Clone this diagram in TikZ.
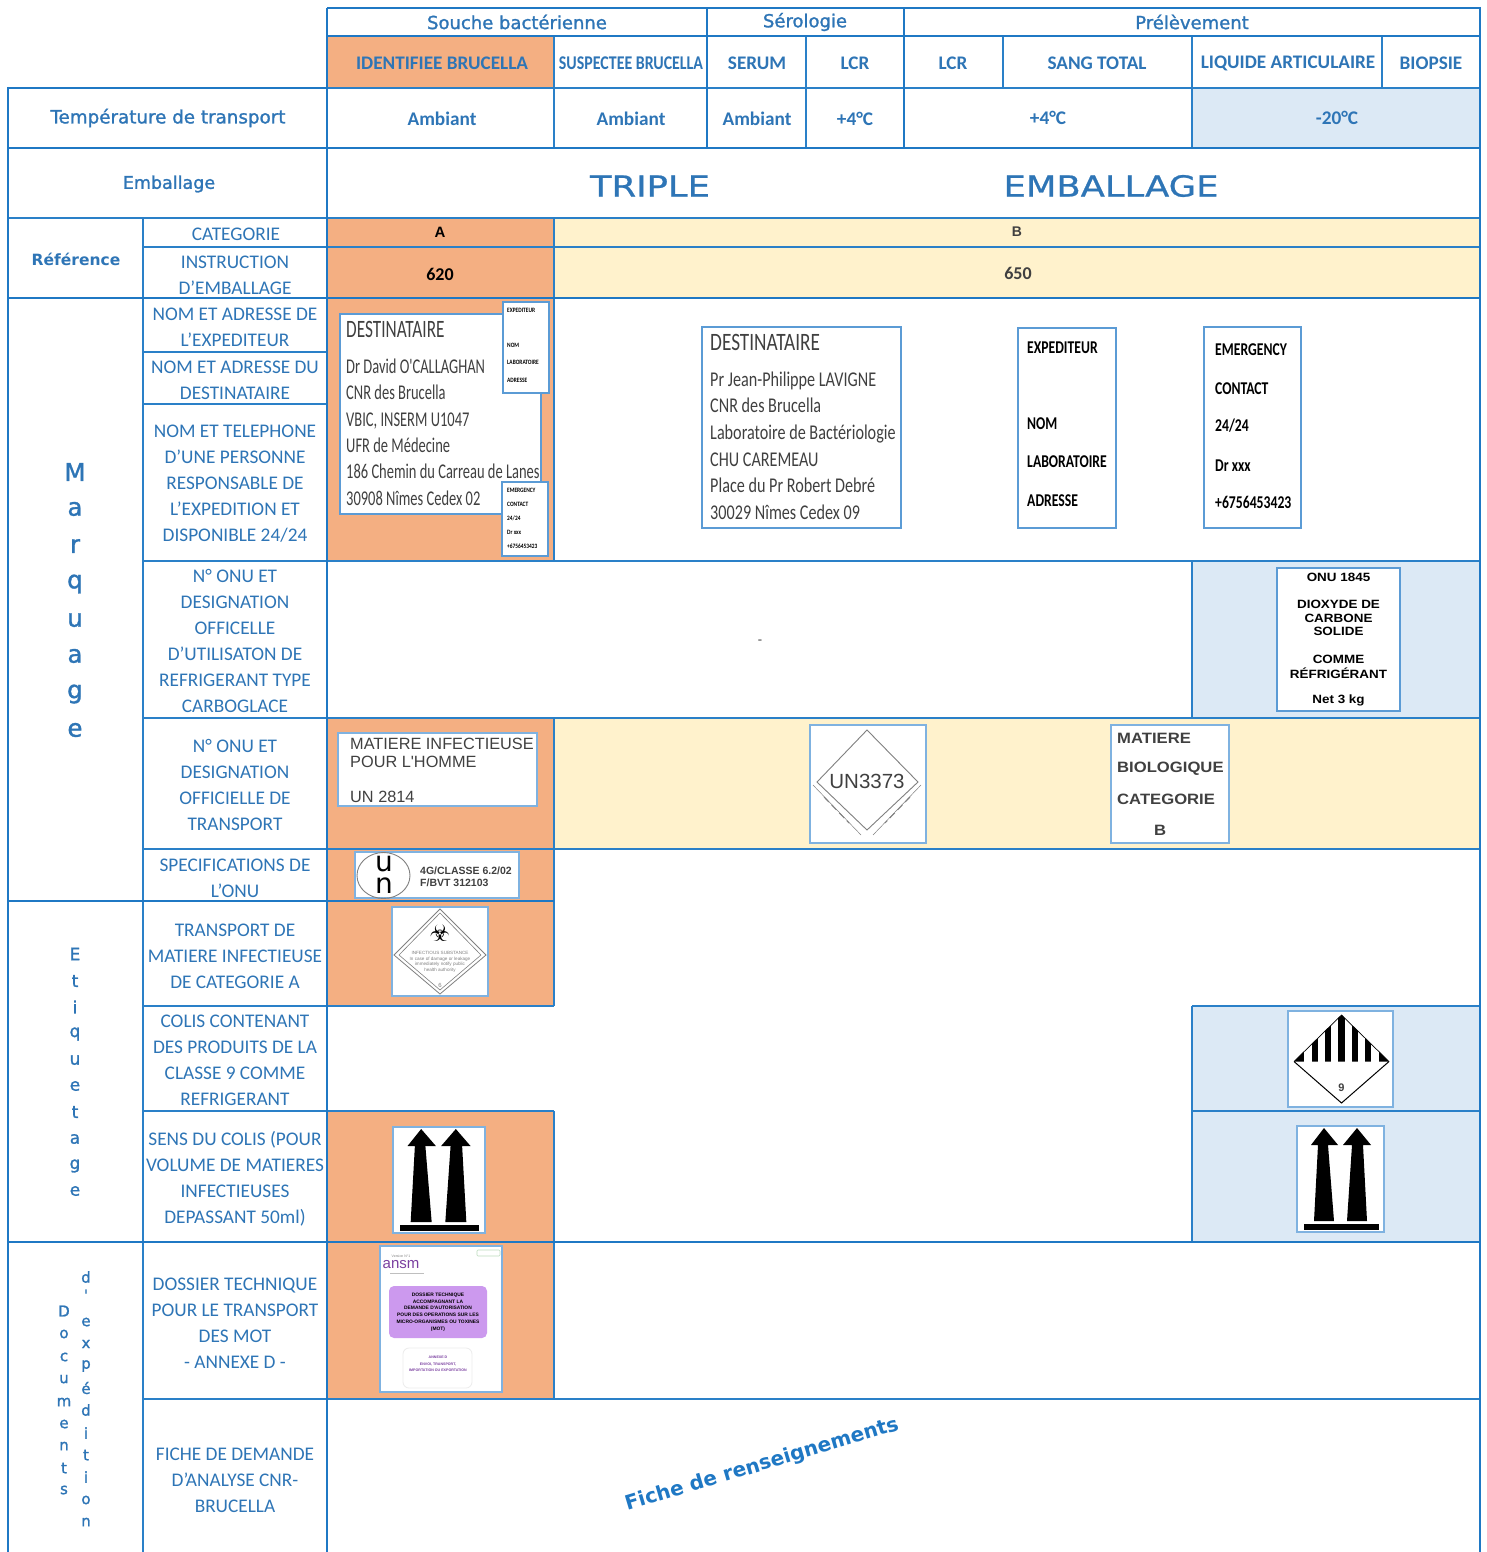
\documentclass[tikz,border=0pt]{standalone}
\usepackage{fontspec}
\setmainfont{Carlito}
\newfontfamily\djv{DejaVu Sans}
\newfontfamily\djvb[FakeBold=1.3]{DejaVu Sans}
\newfontfamily\djvw[FakeStretch=1.22,FakeBold=0.8]{DejaVu Sans}
\newfontfamily\conda[FakeStretch=0.69]{Carlito}
\newfontfamily\condc[FakeStretch=0.77]{Carlito}
\newfontfamily\cond[FakeStretch=0.82]{Carlito}
\newfontfamily\condb[FakeStretch=0.76]{Carlito}
\newfontfamily\arf{Liberation Sans}
\newfontfamily\onuf[FakeStretch=1.12]{Liberation Sans}
\newfontfamily\arwf[FakeStretch=1.11]{Liberation Sans}
\definecolor{tbl}{HTML}{2E75B6}
\definecolor{lnk}{HTML}{2A80C8}
\definecolor{lnkd}{HTML}{1F78C4}
\definecolor{box}{HTML}{5B9BD5}
\definecolor{imgb}{HTML}{7FB2E0}
\definecolor{ora}{HTML}{F4AF82}
\definecolor{yel}{HTML}{FFF2CC}
\definecolor{blu}{HTML}{DCE9F5}
\definecolor{drk}{HTML}{404040}
\definecolor{purp}{HTML}{CC99EE}
\definecolor{vio}{HTML}{7A3FA0}
\tikzset{
 thin line/.style={draw=lnk,line width=1.1pt},
 thick line/.style={draw=lnkd,line width=2.3pt},
 lbl/.style={text=tbl,font=\fontsize{19.3}{26}\selectfont,align=center,inner sep=0pt,yshift=-1pt},
 hd/.style={text=tbl,font=\djvb\fontsize{18}{22}\selectfont,inner sep=0pt},
 hdb/.style={text=tbl,font=\fontsize{19.2}{22}\selectfont\bfseries,inner sep=0pt},
 val/.style={text=tbl,font=\fontsize{19.3}{22}\selectfont\bfseries,inner sep=0pt},
 imgbox/.style={draw=imgb,fill=white,line width=1.2pt},
 addr/.style={anchor=west,inner sep=0pt,text=drk,font=\conda\fontsize{21}{24}\selectfont,text height=18pt,text depth=4pt},
 addrc/.style={addr,font=\condc\fontsize{21}{24}\selectfont},
 addrt/.style={text height=20pt},
 addrb/.style={anchor=west,inner sep=0pt,text=black,font=\condb\fontsize{18}{20}\selectfont\bfseries,text height=16pt,text depth=4pt},
 tinyl/.style={anchor=west,inner sep=0pt,text=black,font=\cond\fontsize{6.6}{8}\selectfont\bfseries,text height=6pt,text depth=1pt},
 onu/.style={inner sep=0pt,text=black,font=\onuf\fontsize{12}{14}\selectfont\bfseries},
 mat/.style={anchor=west,inner sep=0pt,text=drk,font=\arf\fontsize{16.3}{20}\selectfont},
 bio/.style={anchor=west,inner sep=0pt,text=drk,font=\arwf\fontsize{15}{18}\selectfont\bfseries},
 vl/.style={text=tbl,inner sep=0pt},
}
\newcommand{\twoarrows}[3]{%
 \begin{scope}[shift={(#1,#2)},xscale=#3]
  \fill[black] (-16.5,-93)--(-29.5,-76)--(-22.5,-76)--(-26.5,0)--(-6.5,0)--(-12.5,-76)--(-2.5,-76)--cycle;
  \fill[black] (16.5,-93)--(2.5,-76)--(11.5,-76)--(6.5,0)--(26.5,0)--(22.5,-76)--(30.5,-76)--cycle;
  \fill[black] (-36.5,3) rectangle (38.5,9);
 \end{scope}}
\begin{document}
\begin{tikzpicture}[x=1pt,y=-1pt]
\useasboundingbox (0,0) rectangle (1486,1552);
\fill[white] (0,0) rectangle (1486,1552);
% fills
\fill[ora] (327,36) rectangle (554,88);
\fill[ora] (327,218) rectangle (554,561);
\fill[ora] (327,718) rectangle (554,1006);
\fill[ora] (327,1111) rectangle (554,1399);
\fill[yel] (554,218) rectangle (1480,298);
\fill[yel] (554,718) rectangle (1480,849);
\fill[blu] (1192,88) rectangle (1480,148);
\fill[blu] (1192,561) rectangle (1480,718);
\fill[blu] (1192,1006) rectangle (1480,1242);
% thin lines
\draw[thin line] (327,88)--(1480,88);
\draw[thin line] (8,218)--(1480,218);
\draw[thin line] (143,247)--(1480,247);
\draw[thin line] (143,352)--(327,352) (143,404)--(327,404);
\draw[thin line] (143,561)--(1480,561) (143,718)--(1480,718) (143,849)--(1480,849);
\draw[thin line] (143,1006)--(554,1006) (1192,1006)--(1480,1006);
\draw[thin line] (143,1111)--(554,1111) (1192,1111)--(1480,1111);
\draw[thin line] (143,1399)--(1480,1399);
\draw[thin line] (143,218)--(143,1552);
\draw[thin line] (554,36)--(554,148) (554,218)--(554,561) (554,718)--(554,1006) (554,1111)--(554,1399);
\draw[thin line] (806,36)--(806,148) (1003,36)--(1003,88);
\draw[thin line] (1192,36)--(1192,148) (1192,561)--(1192,718) (1192,1006)--(1192,1242);
\draw[thin line] (1382,36)--(1382,88);
% thick lines
\draw[thick line] (327,8)--(1480,8);
\draw[thick line,line width=1.6pt] (327,36)--(1480,36);
\draw[thick line] (8,88)--(327,88);
\draw[thick line] (8,148)--(1480,148) (8,298)--(1480,298);
\draw[thick line] (8,901)--(554,901) (8,1242)--(1480,1242);
\draw[thick line] (8,87)--(8,1552) (327,8)--(327,1552) (1480,7)--(1480,1552);
\draw[thick line,line width=1.8pt] (707,8)--(707,148) (904,8)--(904,148);
% headers
\node[hd] (h1) at (517,22) {Souche bactérienne};
\node[hd] (h2) at (805,22) {Sérologie};
\node[hd] (h3) at (1192,22) {Prélèvement};
\node[hdb] (s1) at (442,63) {IDENTIFIEE BRUCELLA};
\node[hdb,font=\cond\fontsize{19.4}{20}\selectfont\bfseries] (s2) at (631,63) {SUSPECTEE BRUCELLA};
\node[hdb] (s3) at (757,63) {SERUM};
\node[hdb] (s4) at (855,63) {LCR};
\node[hdb] (s5) at (953,63) {LCR};
\node[hdb] (s6) at (1097,63) {SANG TOTAL};
\node[hdb] (s7) at (1288,63) {LIQUIDE ARTICULAIRE};
\node[hdb] (s8) at (1431,63) {BIOPSIE};
\node[hd,font=\djvb\fontsize{18.3}{22}\selectfont] (tt) at (168,118) {Température de transport};
\node[val] (v1) at (442,119) {Ambiant};
\node[val] (v2) at (631,119) {Ambiant};
\node[val] (v3) at (757,119) {Ambiant};
\node[val] (v4) at (855,119) {+4°C};
\node[val] (v5) at (1048,118) {+4°C};
\node[val] (v6) at (1337,118) {-20°C};
\node[hd,font=\djvb\fontsize{17.5}{22}\selectfont] (emb) at (169,184) {Emballage};
\node[text=tbl,inner sep=0pt,font=\djvw\fontsize{29}{32}\selectfont] (tr) at (650,186) {TRIPLE};
\node[text=tbl,inner sep=0pt,font=\djvw\fontsize{29}{32}\selectfont] (em) at (1111,186) {EMBALLAGE};
\node[hd,font=\djv\fontsize{15.5}{22}\selectfont\bfseries] (ref) at (76,259) {Référence};
% second column labels
\node[lbl] (l1) at (236,233) {CATEGORIE};
\node[lbl] (l2) at (235,274) {INSTRUCTION\\D'EMBALLAGE};
\node[lbl] (l3) at (235,326) {NOM ET ADRESSE DE\\L'EXPEDITEUR};
\node[lbl] (l4) at (235,379) {NOM ET ADRESSE DU\\DESTINATAIRE};
\node[lbl] (l5) at (235,483) {NOM ET TELEPHONE\\D'UNE PERSONNE\\RESPONSABLE DE\\L'EXPEDITION ET\\DISPONIBLE 24/24};
\node[lbl] (l6) at (235,640) {N° ONU ET\\DESIGNATION\\OFFICELLE\\D'UTILISATON DE\\REFRIGERANT TYPE\\CARBOGLACE};
\node[lbl] (l7) at (235,784) {N° ONU ET\\DESIGNATION\\OFFICIELLE DE\\TRANSPORT};
\node[lbl] (l8) at (235,877) {SPECIFICATIONS DE\\L'ONU};
\node[lbl] (l9) at (235,955) {TRANSPORT DE\\MATIERE INFECTIEUSE\\DE CATEGORIE A};
\node[lbl] (l10) at (235,1059) {COLIS CONTENANT\\DES PRODUITS DE LA\\CLASSE 9 COMME\\REFRIGERANT};
\node[lbl] (l11) at (235,1178) {SENS DU COLIS (POUR\\VOLUME DE MATIERES\\INFECTIEUSES\\DEPASSANT 50ml)};
\node[lbl] (l12) at (235,1322) {DOSSIER TECHNIQUE\\POUR LE TRANSPORT\\DES MOT\\- ANNEXE D -};
\node[lbl] (l13) at (235,1479) {FICHE DE DEMANDE\\D'ANALYSE CNR-\\BRUCELLA};
% vertical words
\foreach \c/\y [count=\i] in {M/472,a/509,r/546,q/584,u/620,a/656,g/694,e/730}
 \node[vl,font=\djvb\fontsize{24.5}{26}\selectfont] (ma\i) at (75,\y) {\c};
\foreach \c/\y [count=\i] in {E/954,t/981,i/1007,q/1034,u/1060,e/1086,t/1112,a/1139,g/1166,e/1191}
 \node[vl,font=\djvb\fontsize{17}{20}\selectfont] (et\i) at (75,\y) {\c};
\foreach \c/\y [count=\i] in {D/1311,o/1334,c/1357,u/1379,m/1402,e/1424,n/1446,t/1468,s/1490}
 \node[vl,font=\djvb\fontsize{15}{18}\selectfont] (doc\i) at (64,\y) {\c};
\foreach \c/\y [count=\i] in {d/1277,{'}/1295,e/1322,x/1344,p/1366,{é}/1388,d/1410,i/1433,t/1455,i/1477,o/1500,n/1522}
 \node[vl,font=\djvb\fontsize{15}{18}\selectfont] (exp\i) at (86,\y) {\c};
% values
\node[inner sep=0pt,font=\arf\fontsize{15}{18}\selectfont\bfseries] (ca) at (440,232) {A};
\node[inner sep=0pt,text=drk,font=\arf\fontsize{14}{18}\selectfont\bfseries] (cb) at (1017,232) {B};
\node[inner sep=0pt,font=\fontsize{18}{20}\selectfont\bfseries] (n620) at (440,274) {620};
\node[inner sep=0pt,text=drk,font=\fontsize{18}{20}\selectfont\bfseries] (n650) at (1018,273) {650};
\node[inner sep=0pt,text=drk,font=\fontsize{14}{16}\selectfont] (dash) at (760,642) {-};
% address box 1
\draw[box,fill=white,line width=1.3pt] (340,314) rectangle (541,514);
\node[addr,addrt,font=\conda\fontsize{25}{28}\selectfont] (a0) at (346,329) {DESTINATAIRE};
\foreach \t/\y [count=\i] in {{Dr David O'CALLAGHAN}/366,{CNR des Brucella}/392,{VBIC, INSERM U1047}/419,{UFR de Médecine}/445,{186 Chemin du Carreau de Lanes}/471,{30908 Nîmes Cedex 02}/498}
 \node[addr] (a\i) at (346,\y) {\t};
\draw[box,fill=white,line width=1.3pt] (503,302) rectangle (549,393);
\foreach \t/\y [count=\i] in {EXPEDITEUR/310,NOM/345,LABORATOIRE/362,ADRESSE/380}
 \node[tinyl] (b\i) at (507,\y) {\t};
\draw[box,fill=white,line width=1.3pt] (502,482) rectangle (548,556);
\foreach \t/\y [count=\i] in {EMERGENCY/490,CONTACT/504,{24/24}/518,{Dr xxx}/532,+6756453423/546}
 \node[tinyl] (c\i) at (507,\y) {\t};
% address box 2
\draw[box,fill=white,line width=1.3pt] (702,327) rectangle (901,528);
\node[addrc,addrt,font=\condc\fontsize{25}{28}\selectfont] (d0) at (710,342) {DESTINATAIRE};
\foreach \t/\y [count=\i] in {{Pr Jean-Philippe LAVIGNE}/379,{CNR des Brucella}/405,{Laboratoire de Bactériologie}/432,{CHU CAREMEAU}/459,{Place du Pr Robert Debré}/485,{30029 Nîmes Cedex 09}/512}
 \node[addrc] (d\i) at (710,\y) {\t};
% expediteur
\draw[box,fill=white,line width=1.3pt] (1018,328) rectangle (1116,528);
\foreach \t/\y [count=\i] in {EXPEDITEUR/347,NOM/423,LABORATOIRE/461,ADRESSE/500}
 \node[addrb] (e\i) at (1027,\y) {\t};
% emergency
\draw[box,fill=white,line width=1.3pt] (1204,327) rectangle (1301,528);
\foreach \t/\y [count=\i] in {EMERGENCY/349,CONTACT/388,{24/24}/425,{Dr xxx}/465,+6756453423/502}
 \node[addrb] (f\i) at (1215,\y) {\t};
% ONU
\draw[box,fill=white,line width=1.3pt] (1277,568) rectangle (1400,711);
\foreach \t/\y [count=\i] in {{ONU 1845}/577,{DIOXYDE DE}/604,CARBONE/618,SOLIDE/631,COMME/659,{RÉFRIGÉRANT}/673,{Net 3 kg}/700}
 \node[onu] (g\i) at (1338.5,\y) {\t};
% matiere infectieuse
\draw[imgbox] (338,733) rectangle (537,806);
\node[mat] (m1) at (350,744) {MATIERE INFECTIEUSE};
\node[mat] (m2) at (350,762) {POUR L'HOMME};
\node[mat] (m3) at (350,797) {UN 2814};
% UN mark
\draw[imgbox] (355,852) rectangle (519,898);
\draw[gray,line width=0.9pt] (383.5,875.5) ellipse (26.5 and 23);
\node[inner sep=0pt,font=\djv\fontsize{28}{30}\selectfont] (unu) at (384,864) {u};
\node[inner sep=0pt,font=\djv\fontsize{28}{30}\selectfont] (unn) at (384,886) {n};
\node[inner sep=0pt,anchor=west,text=drk,align=left,font=\arf\fontsize{10.5}{12.5}\selectfont\bfseries] (uns) at (420,877) {4G/CLASSE 6.2/02\\F/BVT 312103};
% infectious
\draw[imgbox] (392,907) rectangle (488,996);
\draw[gray,line width=0.8pt] (440,909)--(486,955)--(440,994)--(394,955)--cycle;
\draw[gray,line width=0.6pt] (440,913)--(481,955)--(440,990)--(399,955)--cycle;
\node[inner sep=0pt,text=black,font=\djv\fontsize{23}{24}\selectfont] (bh) at (440,933) {☣};
\node[inner sep=0pt,text=gray,align=center,font=\arf\fontsize{4.6}{5.6}\selectfont] (inf) at (440,962) {INFECTIOUS SUBSTANCE\\In case of damage or leakage\\immediately notify public\\health authority};
\node[inner sep=0pt,text=gray,font=\arf\fontsize{6}{7}\selectfont] (six) at (440,985) {6};
% UN3373
\draw[imgbox] (810,725) rectangle (926,843);
\draw[gray,line width=0.9pt] (867,730)--(918,782)--(867,830)--(817,782)--cycle;
\node[inner sep=0pt,text=drk,font=\arf\fontsize{20.5}{24}\selectfont] (un3) at (867,781) {UN3373};
\draw[gray,line width=0.5pt] (813,785)--(861,835) (921,785)--(873,835);
\draw[gray,line width=1pt,dash pattern=on 7pt off 4pt] (824,797)--(849,823);
\draw[gray,line width=1pt,dash pattern=on 7pt off 4pt] (910,797)--(885,823);
% biologique
\draw[imgbox] (1111,725) rectangle (1229,843);
\node[bio] (o1) at (1117,738) {MATIERE};
\node[bio] (o2) at (1117,769) {BIOLOGIQUE};
\node[bio] (o3) at (1117,799) {CATEGORIE};
\node[bio] (o4) at (1154,830) {B};
% class 9
\draw[imgbox] (1288,1011) rectangle (1393,1107);
\begin{scope}
 \clip (1294,1061.5)--(1341.5,1015)--(1389,1061.5)--cycle;
 \fill[black] (1338.3,1010) rectangle (1344.7,1062);
 \fill[black] (1325,1010) rectangle (1331.4,1062);
 \fill[black] (1351.6,1010) rectangle (1358,1062);
 \fill[black] (1311.7,1010) rectangle (1318.1,1062);
 \fill[black] (1364.9,1010) rectangle (1371.3,1062);
 \fill[black] (1294,1062) rectangle (1304,1040);
 \fill[black] (1379,1062) rectangle (1389,1040);
\end{scope}
\draw[black,line width=1pt] (1294,1061.5)--(1341.5,1103)--(1389,1061.5);
\draw[black,line width=0.7pt] (1294,1061.5)--(1341.5,1015)--(1389,1061.5);
\node[inner sep=0pt,text=drk,font=\arf\fontsize{11}{12}\selectfont\bfseries] (nine) at (1341.5,1088) {9};
% arrows
\draw[imgbox] (1297,1126) rectangle (1384,1232);
\twoarrows{1340.5}{1221}{1}
\draw[imgbox] (393,1127) rectangle (485,1233);
\twoarrows{438.5}{1222}{1.05}
% dossier
\draw[imgbox] (380,1246) rectangle (502,1392);
\node[inner sep=0pt,text=vio,font=\arf\fontsize{15}{15}\selectfont] (ansm) at (401,1265) {ansm};
\draw[gray!50,line width=0.6pt] (390,1273)--(424,1273);
\node[inner sep=0pt,text=gray,font=\arf\fontsize{3.5}{4}\selectfont] (dt) at (401,1256) {Version N°1};
\draw[green!30!gray!40,line width=0.6pt,rounded corners=1pt] (477,1250) rectangle (500,1256);
\fill[purp,rounded corners=5pt] (389,1286) rectangle (487,1338);
\node[inner sep=0pt,align=center,text=black,font=\arf\fontsize{4.9}{6.8}\selectfont\bfseries] (dos) at (438,1312) {DOSSIER TECHNIQUE\\ACCOMPAGNANT LA\\DEMANDE D'AUTORISATION\\POUR DES OPERATIONS SUR LES\\MICRO-ORGANISMES OU TOXINES\\(MOT)};
\draw[gray!15,line width=0.8pt,rounded corners=6pt] (403,1348) rectangle (472,1388);
\node[inner sep=0pt,align=center,text=vio,font=\arf\fontsize{3.6}{6.5}\selectfont\bfseries] (anx) at (438,1364) {ANNEXE D\\ENVOI, TRANSPORT,\\IMPORTATION OU EXPORTATION};
% fiche
\node[inner sep=0pt,rotate=16.6,text=lnkd,font=\djv\fontsize{20}{22}\selectfont\bfseries] (fiche) at (762,1465) {Fiche de renseignements};
\end{tikzpicture}
\end{document}
